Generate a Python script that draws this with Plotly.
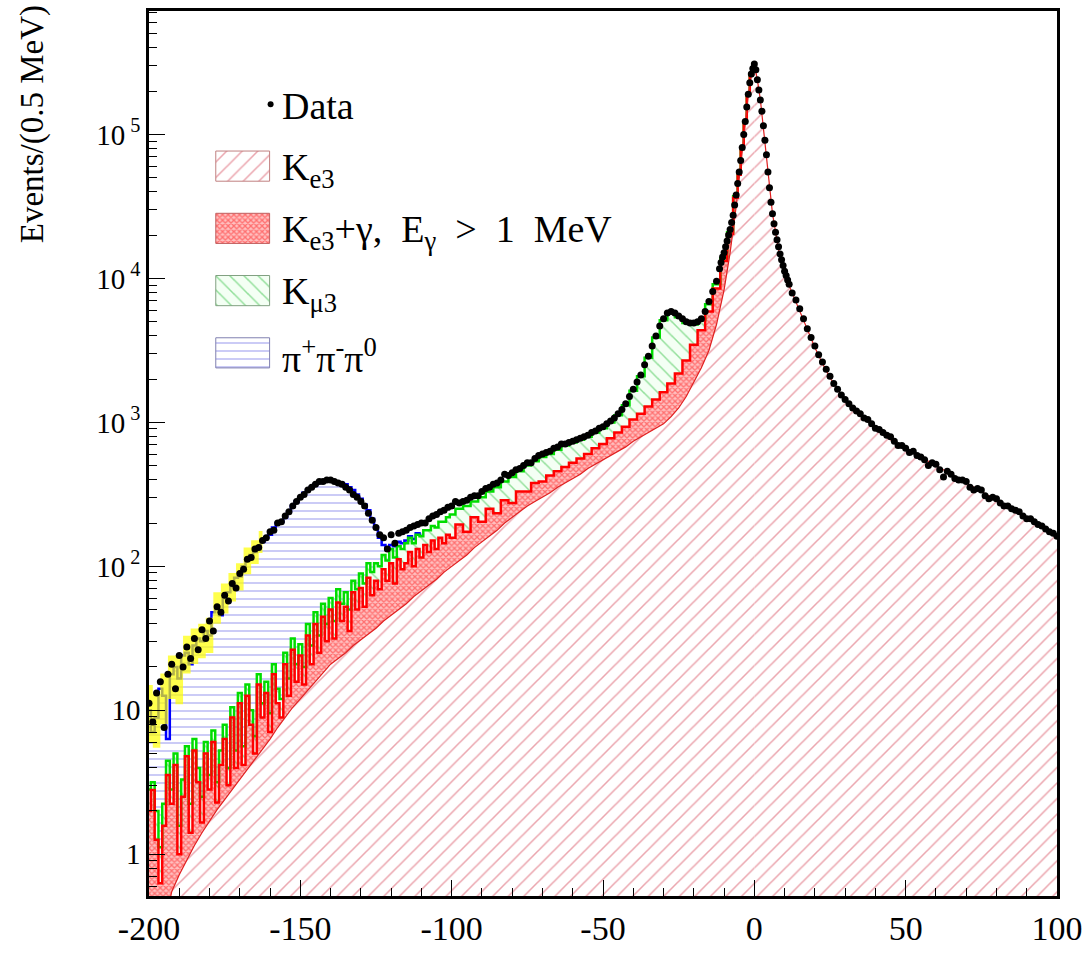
import numpy as np
import plotly.graph_objects as go

# ---------------------------------------------------------------------------
# Ke3 alone: bin centres in MeV (finer around the peak) and events per bin
# ---------------------------------------------------------------------------
ke3_x = (list(np.arange(-200, -9.9, 2.5))
         + [-8, -6, -5, -4, -3, -2, -1, 0, 1, 2, 3, 4, 5, 6, 8]
         + [10, 12.5, 15, 17.5, 20, 22.5, 25]
         + list(np.arange(30, 100.1, 5)))
KE3_LEFT = 85  # bins from -200 up to and including 0

ke3 = [0.05, 0.05, 0.3, 0.55, 0.72, 0.91, 1.15, 1.41, 1.70, 2.04,
       2.40, 2.82, 3.31, 3.89, 4.57, 5.37, 6.31, 7.59, 8.91, 10.5,
       12.0, 13.8, 15.8, 18.2, 20.9, 22.9, 25.1, 28.2, 30.9, 33.9,
       37.2, 41.7, 45.7, 50.1, 55.0, 61.7, 67.6, 74.1, 81.3, 91.2,
       100, 110, 120, 135, 148, 162, 178, 200, 219, 240,
       263, 282, 302, 324, 355, 380, 407, 437, 479, 513,
       550, 589, 631, 676, 741, 794, 851, 912, 977, 1096,
       1259, 1514, 1905, 2399, 3162, 4786, 8318,
       15100, 31600, 47900, 75900, 117500, 186200, 257000, 309000,
       240000, 174000, 112000, 72400, 41700, 28200, 15850,
       10700, 7940, 5890, 4365, 3311, 2570, 2042,
       1413, 1122, 933, 759, 661, 575, 501, 437, 380, 331, 288, 251, 214, 186, 162]

# ---------------------------------------------------------------------------
# Stacked totals, bins -200 .. 0 (1.25 MeV below -100, 2.5 MeV up to -10, then finer)
# ---------------------------------------------------------------------------
stack_x = (list(np.arange(-200, -99.9, 1.25))
           + list(np.arange(-97.5, -9.9, 2.5))
           + [-8, -6, -5, -4, -3, -2, -1, 0])

# Ke3 + (Ke3 + gamma)
ke3g_top = [2.0, 2.8, 1.26, 0.63, 1.58, 3.55, 2.24, 4.17, 1.0, 2.51,
            4.79, 1.41, 5.25, 3.16, 1.66, 5.01, 2.82, 6.03, 2.29, 4.17,
            6.31, 3.02, 8.91, 3.98, 11.2, 4.17, 12.6, 7.94, 5.01, 15.1,
            8.91, 13.2, 7.08, 17.8, 11.2, 8.91, 20.9, 12.6, 26.3, 15.8,
            24.0, 15.1, 33.1, 20.9, 39.8, 25.1, 44.7, 30.2, 50.1, 31.6,
            56.2, 41.7, 52.5, 35.5, 66.1, 50.1, 70.8, 52.5, 83.2, 63.1,
            79.4, 69.2, 95.5, 79.4, 105, 75.9, 112, 95.5, 105, 126,
            100, 132, 115, 141, 126, 151, 132, 158, 145, 166,
            158,
            195, 174, 219, 204, 251, 234, 288, 275, 331,
            331, 380, 389, 427, 457, 490, 525, 562, 603, 661,
            708, 776, 851, 933, 1047, 1148, 1288, 1445, 1622, 1862,
            2188, 2692, 3467, 4365, 5888, 8511, 13200,
            20400, 36300, 52500, 79400, 123000, 190500, 263000, 309000]

# ... + K-mu3
kmu3_top = [2.82, 3.16, 2.0, 1.12, 2.24, 4.47, 2.82, 5.01, 1.58, 3.31,
            5.62, 2.24, 6.31, 3.98, 2.51, 6.03, 3.55, 7.24, 3.16, 5.25,
            7.94, 3.98, 10.5, 5.25, 13.2, 5.62, 15.1, 10.0, 6.61, 17.8,
            11.2, 15.8, 9.55, 20.9, 14.1, 12.0, 25.1, 16.6, 31.6, 20.9,
            28.8, 20.0, 39.8, 28.2, 47.9, 33.1, 55.0, 39.8, 60.3, 41.7,
            69.2, 55.0, 66.1, 50.1, 79.4, 69.2, 89.1, 75.9, 105, 91.2,
            105, 100, 120, 110, 132, 115, 138, 132, 145, 158,
            145, 166, 162, 178, 178, 191, 186, 204, 204, 219,
            229,
            251, 263, 282, 302, 331, 355, 389, 417, 457,
            501, 537, 575, 603, 646, 692, 724, 759, 794, 851,
            912, 1000, 1122, 1318, 1660, 2089, 2818, 3890, 5129, 5754,
            5370, 4898, 4786, 5129, 6607, 9120, 13800,
            20900, 37200, 53700, 81300, 123000, 190500, 263000, 309000]

# ... + pi+ pi- pi0, bins -200 .. -110 (above -110 it equals the K-mu3 total)
p3pi_top_low = [10.0, 7.08, 8.91, 14.1, 12.6, 6.31, 17.8, 20.0, 16.6, 24.0,
                25.1, 20.9, 28.2, 31.6, 30.2, 35.5, 33.1, 47.9, 52.5, 45.7,
                60.3, 66.1, 72.4, 83.2, 85.1, 100, 110, 120, 126, 138,
                148, 158, 166, 186, 200, 204, 219, 240, 263, 282,
                302, 324, 339, 355, 372, 380, 389, 398, 398, 389,
                380, 380, 372, 355, 339, 316, 295, 269, 245, 214,
                186, 158, 141, 135, 141, 138, 148, 145, 151, 162,
                155, 170, 166]

# simulation uncertainty band, bins -200 .. -162.5
band_x = list(np.arange(-200, -162.4, 2.5))
band_lo = [6, 5.5, 8, 12, 11, 18, 21, 23, 25, 40, 47, 57, 68, 88, 104, 124]
band_hi = [15, 13, 18, 24, 24, 33, 37, 40, 44, 66, 76, 90, 105, 135, 152, 176]

# ---------------------------------------------------------------------------
# Data, events per bin
# ---------------------------------------------------------------------------
data_x = (list(np.arange(-200, -12.4, 1.25))
          + list(np.arange(-11.5, 11.51, 0.5))
          + list(np.arange(12.5, 100.01, 1.25)))
data_y = [11.2, 8.3, 13.2, 15.8, 7.6, 17.8, 20.9, 14.1, 24.0, 20.0,
          27.5, 22.9, 31.6, 26.3, 36.3, 31.6, 41.7, 35.5, 52.5, 47.9,
          63.1, 57.5, 75.9, 70.8, 89.1, 95.5, 112, 115, 132, 135,
          151, 158, 174, 178, 200, 204, 224, 240, 263, 282,
          302, 316, 339, 355, 372, 389, 389, 398, 398, 389,
          380, 372, 355, 339, 316, 302, 282, 263, 234, 209,
          186, 166, 158, 132, 166, 145, 170, 174, 178, 186,
          191, 195, 200, 200, 214, 224, 229, 240, 245, 257,
          263, 282, 275, 282, 288, 302, 309, 309, 331, 347,
          355, 372, 380, 398, 437, 427, 447, 468, 479, 501,
          525, 525, 562, 589, 603, 617, 631, 661, 676, 708,
          708, 724, 741, 759, 776, 794, 813, 851, 871, 912,
          933, 977, 1023, 1072, 1148, 1230, 1349, 1514, 1698, 1905,
          2138, 2512, 2884, 3388, 3981, 4677, 5248, 5754, 5888, 5754,
          5495, 5248, 5012, 4898, 4898, 5012, 5248, 5888, 6918, 8128,
          9550,
          11700, 12900, 14100, 15100, 16600, 18200, 20000, 21900, 24500, 27500,
          32400, 38000, 45700, 55000, 66100, 81300, 100000, 123000, 155000, 190500,
          229000, 263000, 288000, 309000, 282000, 240000, 204000, 174000, 145000, 115000,
          91200, 72400, 55000, 42700, 33900, 28200, 24000, 20900, 18600, 16600,
          14800, 13500, 12300, 11200, 10500, 9770, 9120,
          7940, 7080, 6166, 5248, 4467, 3890, 3388, 2951, 2630, 2344,
          2089, 1862, 1698, 1549, 1445, 1349, 1259, 1202, 1148, 1072,
          1047, 977, 912, 891, 851, 813, 794, 741, 692, 692,
          661, 617, 631, 589, 575, 550, 501, 525, 513, 468,
          417, 457, 437, 407, 398, 398, 389, 355, 339, 347,
          339, 309, 295, 302, 295, 275, 263, 263, 251, 245,
          240, 224, 214, 214, 204, 195, 191, 182, 174, 170,
          162]

# axis ticks
x_tickvals = [-200, -150, -100, -50, 0, 50, 100]
x_ticktext = ["-200", "-150", "-100", "-50", "0", "50", "100"]
y_tickvals = [1, 10, 100, 1000, 10000, 100000]
y_ticktext = ["1", "10", "10<sup> 2</sup>", "10<sup> 3</sup>", "10<sup> 4</sup>", "10<sup> 5</sup>"]

assert len(ke3) == len(ke3_x)
assert len(ke3g_top) == len(kmu3_top) == len(stack_x)
assert len(data_y) == len(data_x)
assert len(band_lo) == len(band_hi) == len(band_x)

p3pi_top = p3pi_top_low + kmu3_top[len(p3pi_top_low):]

FONT = "Liberation Serif"
RED_HATCH = "rgba(210,55,75,0.9)"
XHATCH_FG, XHATCH_BG = "#ff1e1e", "#ffc0c0"

fig = go.Figure()

ke3_pattern = dict(shape="/", size=11, solidity=0.14, fgcolor=RED_HATCH, bgcolor="white")
# Ke3 fill, right of the peak and left of the peak
fig.add_trace(go.Scatter(x=ke3_x[KE3_LEFT - 1:], y=ke3[KE3_LEFT - 1:], mode="lines",
                         line=dict(width=0), fill="tozeroy", fillcolor="white",
                         fillpattern=ke3_pattern, hoverinfo="skip"))
fig.add_trace(go.Scatter(x=ke3_x[:KE3_LEFT], y=ke3[:KE3_LEFT], mode="lines",
                         line=dict(width=0), fill="tozeroy", fillcolor="white",
                         fillpattern=ke3_pattern, hoverinfo="skip"))
# Ke3 + gamma
fig.add_trace(go.Scatter(x=stack_x, y=ke3g_top, mode="lines", line=dict(width=0, shape="hvh"),
                         fill="tonexty", fillcolor="white",
                         fillpattern=dict(shape="x", size=4, solidity=0.55,
                                          fgcolor=XHATCH_FG, bgcolor=XHATCH_BG),
                         hoverinfo="skip"))
# K mu3
fig.add_trace(go.Scatter(x=stack_x, y=kmu3_top, mode="lines", line=dict(width=0, shape="hvh"),
                         fill="tonexty", fillcolor="white",
                         fillpattern=dict(shape="\\", size=10, solidity=0.15,
                                          fgcolor="#30c040", bgcolor="#f4fff4"),
                         hoverinfo="skip"))
# pi+ pi- pi0
fig.add_trace(go.Scatter(x=stack_x, y=p3pi_top, mode="lines", line=dict(width=0, shape="hvh"),
                         fill="tonexty", fillcolor="white",
                         fillpattern=dict(shape="-", size=8, solidity=0.15,
                                          fgcolor="#5050e0", bgcolor="white"),
                         hoverinfo="skip"))

# outlines
n_blue = len(p3pi_top_low)
fig.add_trace(go.Scatter(x=stack_x[:n_blue], y=p3pi_top[:n_blue], mode="lines",
                         line=dict(color="#0000ff", width=2.5, shape="hvh"), hoverinfo="skip"))
fig.add_trace(go.Scatter(x=stack_x, y=kmu3_top, mode="lines",
                         line=dict(color="#00dd00", width=2.5, shape="hvh"), hoverinfo="skip"))
fig.add_trace(go.Scatter(x=stack_x, y=ke3g_top, mode="lines",
                         line=dict(color="#ff0000", width=2.5, shape="hvh"), hoverinfo="skip"))
fig.add_trace(go.Scatter(x=ke3_x, y=ke3, mode="lines",
                         line=dict(color="#e02020", width=1.2), hoverinfo="skip"))

# simulation uncertainty band
fig.add_trace(go.Scatter(x=band_x, y=band_lo, mode="lines", line=dict(width=0, shape="hvh"),
                         hoverinfo="skip"))
fig.add_trace(go.Scatter(x=band_x, y=band_hi, mode="lines", line=dict(width=0, shape="hvh"),
                         fill="tonexty", fillcolor="rgba(255,255,0,0.7)", hoverinfo="skip"))

# data points
fig.add_trace(go.Scatter(x=data_x, y=data_y, mode="markers",
                         marker=dict(color="black", size=7), hoverinfo="skip"))

# ---------------------------------------------------------------------------
# legend, drawn on an overlay axis pair measured in pixels
# ---------------------------------------------------------------------------
NB = "\u00a0"
legend_rows = [
    (152, "K<sub>e3</sub>", "/", 11, 0.14, RED_HATCH, "white", "#c08080"),
    (216, f"K<sub>e3</sub>+γ,{NB}{NB}E<sub>γ</sub>{NB}{NB}>{NB}{NB}1{NB}{NB}MeV",
     "x", 4, 0.55, XHATCH_FG, XHATCH_BG, "#c06060"),
    (280, "K<sub>μ3</sub>", "\\", 10, 0.15, "#30c040", "#f4fff4", "#80a080"),
    (344, "π<sup>+</sup>π<sup>-</sup>π<sup>0</sup>", "-", 8, 0.15, "#5050e0", "white", "#8080b0"),
]
for top, label, shape, size, sol, fg, bg, edge in legend_rows:
    fig.add_trace(go.Scatter(x=[216, 270, 270, 216, 216], y=[top, top, top + 31, top + 31, top],
                             xaxis="x2", yaxis="y2", mode="lines",
                             line=dict(color=edge, width=1), fill="toself", fillcolor="white",
                             fillpattern=dict(shape=shape, size=size, solidity=sol,
                                              fgcolor=fg, bgcolor=bg),
                             hoverinfo="skip"))
fig.add_trace(go.Scatter(x=[271], y=[104], xaxis="x2", yaxis="y2", mode="markers",
                         marker=dict(color="black", size=6), hoverinfo="skip"))

LEG_FONT = dict(family=FONT, size=38, color="black")
annotations = [dict(x=280, y=106, xref="x2", yref="y2", text="Data", showarrow=False,
                    xanchor="left", yanchor="middle", font=LEG_FONT)]
for top, label, *_ in legend_rows:
    annotations.append(dict(x=280, y=top + 19, xref="x2", yref="y2", text=label, showarrow=False,
                            xanchor="left", yanchor="middle", font=LEG_FONT))
# y axis title, placed in paper coordinates to the left of the frame
annotations.append(dict(x=(32 - 149) / 911, y=1 - (124 - 8) / 910, xref="paper", yref="paper",
                        text="Events/(0.5 MeV)", textangle=-90, showarrow=False,
                        xanchor="center", yanchor="middle",
                        font=dict(family=FONT, size=33, color="black")))

fig.update_layout(
    width=1091, height=955,
    margin=dict(l=149, r=31, t=8, b=37),
    paper_bgcolor="white", plot_bgcolor="white",
    showlegend=False,
    annotations=annotations,
    xaxis=dict(range=[-200, 100], tickvals=x_tickvals, ticktext=x_ticktext,
               ticks="inside", ticklen=16, tickwidth=1.2,
               tickcolor="black", showgrid=False, zeroline=False, showline=True, linecolor="black",
               linewidth=2.5, mirror=True,
               minor=dict(tickmode="linear", tick0=-200, dtick=10, ticks="inside", ticklen=8,
                          tickwidth=1.2, tickcolor="black", showgrid=False),
               tickfont=dict(family=FONT, size=34, color="black")),
    yaxis=dict(type="log", range=[-0.29, 5.858], tickvals=y_tickvals, ticktext=y_ticktext,
               ticks="inside", ticklen=16, tickwidth=1.2, tickcolor="black", showgrid=False,
               zeroline=False, showline=True, linecolor="black", linewidth=2.5, mirror=True,
               minor=dict(tickvals=[m * 10 ** e for e in range(-1, 6) for m in range(2, 10)
                                    if 0.5 < m * 10 ** e < 7.2e5],
                          ticks="inside", ticklen=8, tickwidth=1.2, tickcolor="black", showgrid=False),
               tickfont=dict(family=FONT, size=29, color="black")),
    xaxis2=dict(range=[149, 1060], overlaying="x", anchor="y2", visible=False, fixedrange=True),
    yaxis2=dict(range=[918, 8], overlaying="y", anchor="x2", visible=False, fixedrange=True),
)

fig.write_html("out.html")
